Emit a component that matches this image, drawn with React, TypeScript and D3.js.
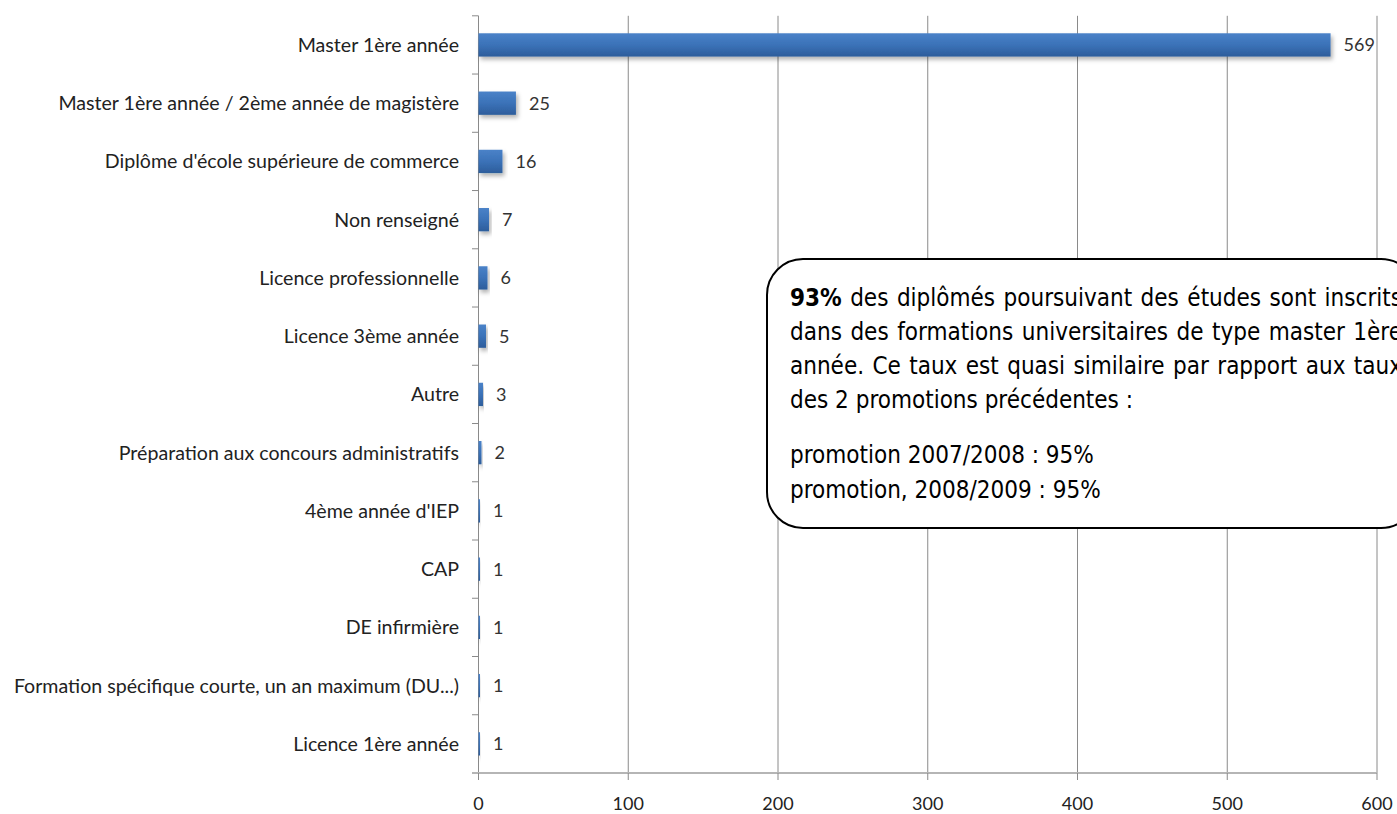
import React from 'react';
import * as d3 from 'd3';

const categories = [
  "Master 1ère année",
  "Master 1ère année / 2ème année de magistère",
  "Diplôme d'école supérieure de commerce",
  "Non renseigné",
  "Licence professionnelle",
  "Licence 3ème année",
  "Autre",
  "Préparation aux concours administratifs",
  "4ème année d'IEP",
  "CAP",
  "DE infirmière",
  "Formation spécifique courte, un an maximum (DU...)",
  "Licence 1ère année",
];
const values = [569, 25, 16, 7, 6, 5, 3, 2, 1, 1, 1, 1, 1];
const xTickValues = [0, 100, 200, 300, 400, 500, 600];

const noteJustified = [
  "93% des diplômés poursuivant des études sont inscrits",
  "dans des formations universitaires de type master 1ère",
  "année. Ce taux est quasi similaire par rapport aux taux",
];
const noteLast = "des 2 promotions précédentes :";
const notePromos = ["promotion 2007/2008 : 95%", "promotion, 2008/2009 : 95%"];

const W = 1397;
const H = 814;
const labelFont = "Lato, 'Open Sans', sans-serif";
const noteFontFamily = "'DejaVu Sans Condensed', 'DejaVu Sans', sans-serif";
const noteSize = 24;

let _ctx: CanvasRenderingContext2D | null = null;
function measure(text: string, font: string) {
  if (!_ctx) _ctx = document.createElement('canvas').getContext('2d');
  _ctx!.font = font;
  return _ctx!.measureText(text).width;
}

export default function App() {
  const x = d3.scaleLinear().domain([0, 600]).range([478.5, 1377]);
  const y = d3
    .scaleBand<string>()
    .domain(categories)
    .range([15.8, 773])
    .paddingInner(0.6)
    .paddingOuter(0.3);
  const step = y.step();
  const top = 15.8;
  const bottom = 773;

  const noteX = 790;
  const noteRight = 1402;
  const lineGap = 34;
  const firstBase = 306;
  const fNormal = `${noteSize}px ${noteFontFamily}`;
  const fBold = `bold ${noteSize}px ${noteFontFamily}`;

  const justified = noteJustified.map((line, li) => {
    const words = line.split(' ');
    const widths = words.map((w, i) => measure(w, li === 0 && i === 0 ? fBold : fNormal));
    const total = widths.reduce((a, b) => a + b, 0);
    const gap = (noteRight - noteX - total) / (words.length - 1);
    let cx = noteX;
    return words.map((w, i) => {
      const pos = cx;
      cx += widths[i] + gap;
      return { w, pos, bold: li === 0 && i === 0 };
    });
  });

  const ticksLeft = d3.range(categories.length + 1).map((i) => top + i * step);

  return (
    <svg
      width={W}
      height={H}
      style={{ position: 'absolute', left: 0, top: 0, background: '#fff' }}
    >
      <defs>
        <linearGradient id="barGrad" x1="0" y1="0" x2="0" y2="1">
          <stop offset="0" stopColor="#4a82c8" />
          <stop offset="0.5" stopColor="#3b72b8" />
          <stop offset="1" stopColor="#2d5d9b" />
        </linearGradient>
        <filter id="shadow" x="-10%" y="-30%" width="130%" height="180%">
          <feDropShadow dx="2" dy="3" stdDeviation="2" floodColor="#000" floodOpacity="0.3" />
        </filter>
      </defs>

      {/* gridlines */}
      {xTickValues.slice(1).map((t) => (
        <line key={'g' + t} x1={x(t)} x2={x(t)} y1={top} y2={bottom} stroke="#8a8a8a" strokeWidth={1} />
      ))}

      {/* y axis */}
      <line x1={x(0)} x2={x(0)} y1={top} y2={bottom} stroke="#8a8a8a" strokeWidth={1} />
      {ticksLeft.map((t, i) => (
        <line key={'yt' + i} x1={472} x2={x(0)} y1={t} y2={t} stroke="#8a8a8a" strokeWidth={1} />
      ))}

      {/* x axis */}
      <line x1={472} x2={x(600)} y1={bottom} y2={bottom} stroke="#b5b5b5" strokeWidth={2} />
      {xTickValues.map((t) => (
        <line key={'xt' + t} x1={x(t)} x2={x(t)} y1={bottom} y2={bottom + 7} stroke="#8a8a8a" strokeWidth={1} />
      ))}
      {xTickValues.map((t) => (
        <text
          key={'xl' + t}
          x={x(t)}
          y={810}
          textAnchor="middle"
          fontFamily={labelFont}
          fontSize={18}
          fill="#222"
        >
          {t}
        </text>
      ))}

      {/* bars */}
      {categories.map((c, i) => (
        <rect
          key={'b' + i}
          x={x(0)}
          y={y(c)!}
          width={Math.max(x(values[i]) - x(0), 1.2)}
          height={y.bandwidth()}
          fill="url(#barGrad)"
          filter="url(#shadow)"
        />
      ))}

      {/* value labels */}
      {categories.map((c, i) => (
        <text
          key={'v' + i}
          x={x(values[i]) + 13}
          y={y(c)! + y.bandwidth() / 2}
          dy="0.36em"
          fontFamily={labelFont}
          fontSize={18}
          fill="#333"
        >
          {values[i]}
        </text>
      ))}

      {/* category labels */}
      {categories.map((c, i) => (
        <text
          key={'c' + i}
          x={459}
          y={y(c)! + y.bandwidth() / 2}
          dy="0.36em"
          textAnchor="end"
          fontFamily={labelFont}
          fontSize={19.6}
          fill="#222"
        >
          {c}
        </text>
      ))}

      {/* note box */}
      <rect x={767} y={259} width={650} height={269} rx={36} ry={36} fill="#fff" stroke="#000" strokeWidth={2} />
      <g fontFamily={noteFontFamily} fontSize={noteSize} fill="#000">
        {justified.map((words, li) =>
          words.map((wd, wi) => (
            <text key={`n${li}-${wi}`} x={wd.pos} y={firstBase + li * lineGap} fontWeight={wd.bold ? 'bold' : 'normal'}>
              {wd.w}
            </text>
          ))
        )}
        <text x={noteX} y={firstBase + 3 * lineGap}>{noteLast}</text>
        {notePromos.map((p, i) => (
          <text key={'p' + i} x={noteX} y={463 + i * 35}>{p}</text>
        ))}
      </g>
    </svg>
  );
}
